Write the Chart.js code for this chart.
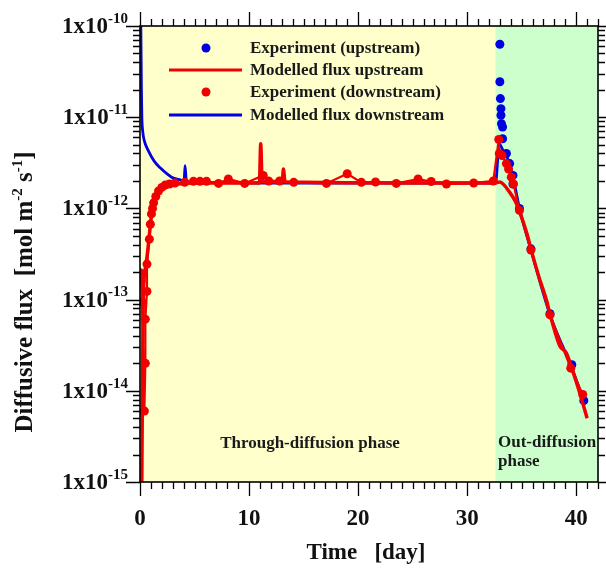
<!DOCTYPE html>
<html><head><meta charset="utf-8">
<script src="https://cdn.jsdelivr.net/npm/chart.js@4/dist/chart.umd.min.js"></script>
<style>html,body{margin:0;padding:0;background:#fff}#wrap{width:606px;height:572px}</style>
</head><body><div id="wrap"><canvas id="c" width="606" height="572"></canvas></div>
<script>
// ---- data ----
const seriesLabels = ['Experiment (upstream)', 'Modelled flux upstream', 'Experiment (downstream)', 'Modelled flux downstream'];

const tUpExp = [33.0,33.0,33.05,33.1,33.1,33.15,33.25,33.25,33.6,33.9,34.2,34.2,34.8,35.85,37.6,39.6,40.7];
const fUpExp = [6.3e-11,2.45e-11,1.6e-11,1.24e-11,1.05e-11,8.5e-12,7.8e-12,5.8e-12,4.0e-12,3.1e-12,2.3e-12,1.85e-12,1.0e-12,3.6e-13,7.0e-14,1.93e-14,7.8e-15];

const tUpModel = [0.15,0.22,0.3,0.45,0.65,0.85,1.0,1.2,1.5,2.0,2.6,3.5,5.0,10.95,11.07,11.2,13.05,13.15,13.3,32.6,33.0,33.4,33.8,34.4,34.8,35.5,35.9,36.6,37.3,37.6,38.5,39.1,39.6,40.4,41.0];
const fUpModel = [5e-16,1e-14,1e-13,2e-13,3e-13,5e-13,7.5e-13,1.0e-12,1.35e-12,1.6e-12,1.75e-12,1.85e-12,1.9e-12,1.9e-12,5.1e-12,1.95e-12,1.95e-12,2.7e-12,1.95e-12,1.9e-12,1.95e-12,1.8e-12,1.56e-12,1.21e-12,9.3e-13,5.2e-13,3.4e-13,1.75e-13,9.6e-14,6.9e-14,3.1e-14,2.6e-14,1.77e-14,8.9e-15,5.0e-15];

const tDownExp = [0.03,0.1,0.18,0.4,0.49,0.49,0.64,0.64,0.86,0.95,1.05,1.15,1.25,1.45,1.7,2.0,2.3,2.7,3.2,4.1,4.9,5.5,6.1,7.2,8.1,9.6,11.3,11.8,12.8,14.1,17.1,19.0,20.3,21.6,23.5,25.5,26.7,28.1,30.6,32.4,32.9,32.95,33.2,33.6,33.8,34.05,34.25,34.8,35.85,37.6,39.5,40.6];
const fDownExp = [1.97e-13,1.6e-13,9.5e-14,6.0e-15,2.0e-14,6.1e-14,1.23e-13,2.45e-13,4.6e-13,6.7e-13,8.7e-13,1.0e-12,1.15e-12,1.35e-12,1.55e-12,1.7e-12,1.8e-12,1.85e-12,1.9e-12,1.93e-12,1.98e-12,1.98e-12,1.98e-12,1.88e-12,2.1e-12,1.88e-12,2.3e-12,2.0e-12,2.0e-12,1.93e-12,1.88e-12,2.4e-12,1.93e-12,1.95e-12,1.88e-12,2.1e-12,1.97e-12,1.85e-12,1.9e-12,2.0e-12,5.7e-12,4.0e-12,3.8e-12,3.1e-12,2.7e-12,2.2e-12,1.85e-12,9.5e-13,3.5e-13,6.8e-14,1.77e-14,9.1e-15];

const tDownModel = [0.06,0.1,0.13,0.17,0.25,0.4,0.76,1.3,1.83,2.9,3.7,4.05,4.13,4.25,5.0,11.0,11.07,11.15,32.6,32.95,33.3,33.6,33.9,34.2,34.45,34.8,35.85,37.6,39.5,40.7];
const fDownModel = [1.5e-10,5e-11,2e-11,1e-11,7e-12,5.5e-12,4.3e-12,3.3e-12,2.8e-12,2.2e-12,2.05e-12,2.0e-12,2.95e-12,2.0e-12,1.93e-12,1.9e-12,2.1e-12,1.9e-12,1.9e-12,5.1e-12,4.3e-12,3.8e-12,3.0e-12,2.2e-12,1.6e-12,1.0e-12,3.5e-13,6.8e-14,1.9e-14,7.8e-15];

const phaseBounds = [0, 32.6, 42];
const phaseNames = [['Through-diffusion phase'], ['Out-diffusion', 'phase']];
const xTickLabels = ['0','10','20','30','40'];
const yDecades = [-10,-11,-12,-13,-14,-15];
const xTitle = 'Time   [day]';

// ---- styling ----
const BLUE = '#0000e0', RED = '#f00000';
const SERIF = '"Liberation Serif", "DejaVu Serif", serif';
const pts = (t, f) => t.map((v, i) => ({x: v, y: f[i]}));

const bgPlugin = {
  id: 'bg',
  beforeDatasetsDraw(chart) {
    const {ctx, chartArea: ca, scales: {x}} = chart;
    const cols = ['#ffffcc', '#ccffcc'];
    ctx.save();
    for (let i = 0; i < 2; i++) {
      const a = x.getPixelForValue(phaseBounds[i]), b = x.getPixelForValue(phaseBounds[i + 1]);
      ctx.fillStyle = cols[i];
      ctx.fillRect(a, ca.top, b - a, ca.bottom - ca.top);
    }
    ctx.restore();
  }
};

const axesPlugin = {
  id: 'axes',
  afterDraw(chart) {
    const {ctx, chartArea: ca, scales: {x, y}} = chart;
    ctx.save();
    ctx.strokeStyle = '#000';
    ctx.lineWidth = 1.6;
    ctx.strokeRect(ca.left, ca.top, ca.right - ca.left, ca.bottom - ca.top);
    ctx.lineWidth = 1.3;
    ctx.beginPath();
    for (let t = 0; t <= 42; t++) {
      const px = Math.round(x.getPixelForValue(t)) + 0.5;
      const len = t % 10 === 0 ? 14 : 7;
      ctx.moveTo(px, ca.bottom); ctx.lineTo(px, ca.bottom + len);
      ctx.moveTo(px, ca.top); ctx.lineTo(px, ca.top - len);
    }
    for (let e = -15; e <= -10; e++) {
      for (let m = 1; m <= 9; m++) {
        if (e === -10 && m > 1) break;
        const py = Math.round(y.getPixelForValue(m * Math.pow(10, e))) + 0.5;
        const len = m === 1 ? 14 : 7;
        ctx.moveTo(ca.left, py); ctx.lineTo(ca.left - len, py);
        ctx.moveTo(ca.right, py); ctx.lineTo(ca.right + len, py);
      }
    }
    ctx.stroke();

    ctx.fillStyle = '#111';
    ctx.font = 'bold 23px ' + SERIF;
    ctx.textAlign = 'center'; ctx.textBaseline = 'middle';
    xTickLabels.forEach(l => ctx.fillText(l, x.getPixelForValue(+l), 519));
    const fTick = 'bold 23px ' + SERIF, fTickSup = 'bold 15px ' + SERIF;
    yDecades.forEach(e => {
      const py = y.getPixelForValue(Math.pow(10, e));
      const main = '1x10', sup = String(e);
      ctx.font = fTick;
      const wm = ctx.measureText(main).width;
      ctx.font = fTickSup;
      const ws = ctx.measureText(sup).width;
      const right = 128;
      ctx.textAlign = 'left'; ctx.textBaseline = 'middle';
      ctx.font = fTick;
      ctx.fillText(main, right - ws - wm, py + 1);
      ctx.font = fTickSup;
      ctx.fillText(sup, right - ws, py - 7);
    });
    ctx.font = 'bold 23px ' + SERIF;
    ctx.textAlign = 'center'; ctx.textBaseline = 'middle';
    ctx.fillText(xTitle, 366, 553);
    const parts = [['Diffusive flux  [mol m', 0], ['-2', 1], [' s', 0], ['-1', 1], [']', 0]];
    const fmain = 'bold 25px ' + SERIF, fsup = 'bold 15px ' + SERIF;
    let total = 0;
    parts.forEach(p => { ctx.font = p[1] ? fsup : fmain; p.w = ctx.measureText(p[0]).width; total += p.w; });
    ctx.translate(25, 292);
    ctx.rotate(-Math.PI / 2);
    ctx.textAlign = 'left'; ctx.textBaseline = 'middle';
    let cx = -total / 2;
    parts.forEach(p => {
      ctx.font = p[1] ? fsup : fmain;
      ctx.fillText(p[0], cx, p[1] ? -7 : 1);
      cx += p.w;
    });
    ctx.restore();

    ctx.save();
    ctx.fillStyle = '#1a1a1a';
    ctx.font = 'bold 17px ' + SERIF;
    ctx.textBaseline = 'middle';
    ctx.textAlign = 'center';
    ctx.fillText(phaseNames[0][0], 310, 444);
    ctx.textAlign = 'left';
    ctx.fillText(phaseNames[1][0], 498, 443);
    ctx.fillText(phaseNames[1][1], 498, 462);
    ctx.restore();

    ctx.save();
    const rows = [48, 70, 92, 115];
    chart.data.datasets.forEach((ds, i) => {
      const yy = rows[i];
      if (ds.legendKind === 'point') {
        ctx.fillStyle = ds.pointBackgroundColor;
        ctx.beginPath(); ctx.arc(206, yy, 4.5, 0, Math.PI * 2); ctx.fill();
      } else {
        ctx.strokeStyle = ds.borderColor; ctx.lineWidth = 3;
        ctx.beginPath(); ctx.moveTo(169, yy); ctx.lineTo(242, yy); ctx.stroke();
      }
      ctx.fillStyle = '#1a1a1a';
      ctx.font = 'bold 17px ' + SERIF;
      ctx.textAlign = 'left'; ctx.textBaseline = 'middle';
      ctx.fillText(ds.label, 250, yy + 1);
    });
    ctx.restore();
  }
};

new Chart(document.getElementById('c'), {
  type: 'line',
  data: {
    datasets: [
      { label: seriesLabels[0], legendKind: 'point', data: pts(tUpExp, fUpExp), showLine: false,
        pointRadius: 4.5, pointBackgroundColor: BLUE, pointBorderWidth: 0, borderColor: BLUE, order: 2 },
      { label: seriesLabels[1], legendKind: 'line', data: pts(tUpModel, fUpModel), borderColor: RED, borderWidth: 3.5,
        pointRadius: 0, cubicInterpolationMode: 'monotone', order: 1 },
      { label: seriesLabels[2], legendKind: 'point', data: pts(tDownExp, fDownExp), borderColor: RED, borderWidth: 2.2,
        pointRadius: 4.5, pointBackgroundColor: RED, pointBorderWidth: 0, tension: 0, order: 0 },
      { label: seriesLabels[3], legendKind: 'line', data: pts(tDownModel, fDownModel), borderColor: BLUE, borderWidth: 2.8,
        pointRadius: 0, cubicInterpolationMode: 'monotone', order: 3 }
    ]
  },
  options: {
    responsive: false, animation: false,
    layout: { padding: { left: 140, right: 8, top: 26, bottom: 90 } },
    plugins: { legend: { display: false }, tooltip: { enabled: false } },
    scales: {
      x: { type: 'linear', min: 0, max: 42, display: false },
      y: { type: 'logarithmic', min: 1e-15, max: 1e-10, display: false }
    }
  },
  plugins: [bgPlugin, axesPlugin]
});
</script></body></html>
